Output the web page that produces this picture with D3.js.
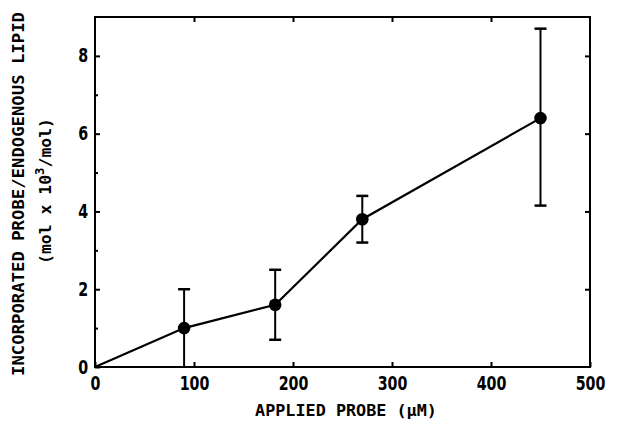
<!DOCTYPE html>
<html>
<head>
<meta charset="utf-8">
<script src="https://cdn.jsdelivr.net/npm/d3@7"></script>
<style>
  body { margin: 0; background: #fff; }
  text { font-family: "DejaVu Sans", sans-serif; font-weight: bold; fill: #000; }
  .title { font-family: "DejaVu Sans Mono", monospace; }
</style>
</head>
<body>
<div id="chart"></div>
<script>
// applied probe (uM) and incorporated probe / endogenous lipid (mol x 10^3/mol)
const applied = [0, 90, 182, 270, 450];
const incorporated = [0, 1.0, 1.6, 3.8, 6.4];
const errUpper = [null, 2.0, 2.5, 4.4, 8.7];
const errLower = [null, 0.0, 0.7, 3.2, 4.15];
const xTicks = [0, 100, 200, 300, 400, 500];
const yTicks = [0, 2, 4, 6, 8];
const yMinor = [1, 3, 5, 7];

const width = 617, height = 426;
const margin = { top: 17, right: 27, bottom: 59, left: 95 };

const svg = d3.select("#chart").append("svg")
    .attr("width", width)
    .attr("height", height);

const x = d3.scaleLinear().domain([0, 500])
    .range([margin.left, width - margin.right]);
const y = d3.scaleLinear().domain([0, 9])
    .range([height - margin.bottom, margin.top]);

const data = applied.map((d, i) => ({ x: d, y: incorporated[i], hi: errUpper[i], lo: errLower[i] }));

// squeeze a text horizontally (in its own frame) to a wanted length
function fit(sel, pre, len) {
    const w = sel.node().getComputedTextLength();
    sel.attr("transform", `${pre} scale(${len / w},1)`);
}

// frame
svg.append("rect")
    .attr("x", x(0)).attr("y", y(9))
    .attr("width", x(500) - x(0)).attr("height", y(0) - y(9))
    .attr("fill", "none").attr("stroke", "#000").attr("stroke-width", 2);

// bottom axis, ticks pointing in
svg.append("g")
    .attr("transform", `translate(0,${y(0)})`)
    .call(d3.axisBottom(x).tickValues(xTicks).tickSize(-5).tickPadding(10).tickFormat(d3.format("d")))
    .call(g => g.select(".domain").remove())
    .call(g => g.selectAll(".tick line").attr("stroke-width", 2))
    .call(g => g.selectAll(".tick text").attr("font-size", 19).attr("transform", "scale(0.75,1)"));

// top ticks
svg.append("g")
    .attr("transform", `translate(0,${y(9)})`)
    .call(d3.axisTop(x).tickValues(xTicks.slice(1, -1)).tickSize(-5).tickFormat(""))
    .call(g => g.select(".domain").remove())
    .call(g => g.selectAll(".tick line").attr("stroke-width", 2));

// left axis
svg.append("g")
    .attr("transform", `translate(${x(0)},0)`)
    .call(d3.axisLeft(y).tickValues(yTicks).tickSize(-5).tickPadding(9))
    .call(g => g.select(".domain").remove())
    .call(g => g.selectAll(".tick line").attr("stroke-width", 2))
    .call(g => g.selectAll(".tick text").attr("font-size", 19).attr("transform", "scale(0.75,1)"));

svg.append("g")
    .attr("transform", `translate(${x(0)},0)`)
    .call(d3.axisLeft(y).tickValues(yMinor).tickSize(-3).tickFormat(""))
    .call(g => g.select(".domain").remove())
    .call(g => g.selectAll(".tick line").attr("stroke-width", 2));

// right ticks
svg.append("g")
    .attr("transform", `translate(${x(500)},0)`)
    .call(d3.axisRight(y).tickValues(yTicks.slice(1)).tickSize(-5).tickFormat(""))
    .call(g => g.select(".domain").remove())
    .call(g => g.selectAll(".tick line").attr("stroke-width", 2));

// line
svg.append("path")
    .datum(data)
    .attr("fill", "none")
    .attr("stroke", "#000")
    .attr("stroke-width", 2.2)
    .attr("d", d3.line().x(d => x(d.x)).y(d => y(d.y)));

// error bars
const eb = data.filter(d => d.hi != null);
svg.selectAll(".err")
    .data(eb)
    .join("line")
    .attr("x1", d => x(d.x)).attr("x2", d => x(d.x))
    .attr("y1", d => y(d.hi)).attr("y2", d => y(d.lo))
    .attr("stroke", "#000").attr("stroke-width", 2);

svg.selectAll(".capHi")
    .data(eb)
    .join("line")
    .attr("x1", d => x(d.x) - 6).attr("x2", d => x(d.x) + 6)
    .attr("y1", d => y(d.hi)).attr("y2", d => y(d.hi))
    .attr("stroke", "#000").attr("stroke-width", 2.5);

svg.selectAll(".capLo")
    .data(eb.filter(d => d.lo > 0))
    .join("line")
    .attr("x1", d => x(d.x) - 6).attr("x2", d => x(d.x) + 6)
    .attr("y1", d => y(d.lo)).attr("y2", d => y(d.lo))
    .attr("stroke", "#000").attr("stroke-width", 2.5);

// markers
svg.selectAll("circle")
    .data(eb)
    .join("circle")
    .attr("cx", d => x(d.x)).attr("cy", d => y(d.y))
    .attr("r", 6.3)
    .attr("fill", "#000");

// axis titles
const xt = svg.append("text")
    .attr("class", "title")
    .attr("text-anchor", "middle")
    .attr("font-size", 16)
    .text("APPLIED PROBE  (\u03bcM)");
fit(xt, "translate(346,416)", 182);

const yt1 = svg.append("text")
    .attr("class", "title")
    .attr("text-anchor", "middle")
    .attr("font-size", 15.5)
    .text("INCORPORATED PROBE/ENDOGENOUS LIPID");
fit(yt1, "translate(24,194) rotate(-90)", 364);

const yt2 = svg.append("text")
    .attr("class", "title")
    .attr("text-anchor", "middle")
    .attr("font-size", 16);
yt2.append("tspan").text("(mol x 10");
yt2.append("tspan").attr("font-size", 12).attr("dy", -7).text("3");
yt2.append("tspan").attr("dy", 7).text("/mol)");
fit(yt2, "translate(51,191) rotate(-90)", 146);
</script>
</body>
</html>
